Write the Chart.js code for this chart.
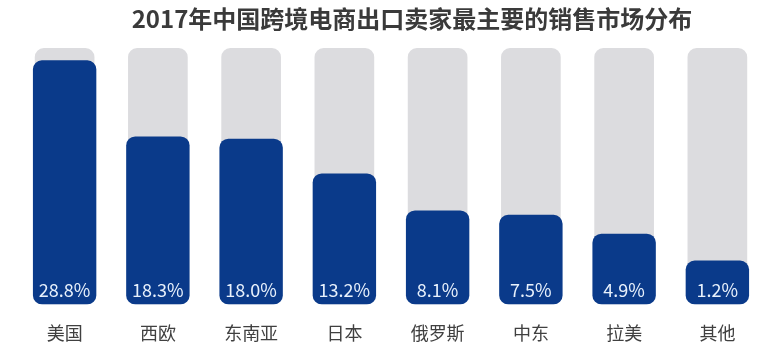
<!DOCTYPE html>
<html>
<head>
<meta charset="utf-8">
<title>销售市场分布</title>
<script src="https://cdn.jsdelivr.net/npm/chart.js@4.4.0/dist/chart.umd.min.js"></script>
<style>
    html, body { margin: 0; padding: 0; background: #ffffff; }
    #wrap { width: 783px; height: 362px; }
</style>
</head>
<body>
<div id="wrap"><canvas id="marketChart" width="783" height="362"></canvas></div>
<script>
// data
var chartTitle = '2017年中国跨境电商出口卖家最主要的销售市场分布';
var markets = ["美国", "西欧", "东南亚", "日本", "俄罗斯", "中东", "拉美", "其他"];
var shares = [28.8, 18.3, 18.0, 13.2, 8.1, 7.5, 4.9, 1.2];
var valueLabels = ["28.8%", "18.3%", "18.0%", "13.2%", "8.1%", "7.5%", "4.9%", "1.2%"];

// the bars in the picture do not start at 0, so the axis runs a bit below it
var axisMin = -4.85;
var axisMax = 30.5;

var trackData = markets.map(function () { return axisMax; });

// title sits a little right of centre in the original, so draw it by hand
var titleText = {
    id: 'titleText',
    afterDraw: function (chart) {
        var ctx = chart.ctx;
        ctx.save();
        ctx.font = 'bold 24px "Noto Sans CJK SC", sans-serif';
        ctx.fillStyle = '#3a3a3a';
        ctx.textAlign = 'center';
        ctx.textBaseline = 'middle';
        ctx.fillText(chartTitle, 412, 19);
        ctx.restore();
    }
};

// draws the % label at the foot of each blue bar
var footLabels = {
    id: 'footLabels',
    afterDatasetsDraw: function (chart) {
        var ctx = chart.ctx;
        var meta = chart.getDatasetMeta(0);
        ctx.save();
        ctx.font = '18px "Noto Sans CJK SC", "Open Sans", sans-serif';
        ctx.fillStyle = '#e8f1fc';
        ctx.textAlign = 'center';
        ctx.textBaseline = 'middle';
        meta.data.forEach(function (bar, i) {
            ctx.fillText(valueLabels[i], bar.x, chart.chartArea.bottom - 14);
        });
        ctx.restore();
    }
};

var ctx = document.getElementById('marketChart');
var chart = new Chart(ctx, {
    type: 'bar',
    data: {
        labels: markets,
        datasets: [{
            data: shares,
            base: axisMin,
            backgroundColor: '#0a3a8a',
            borderRadius: 9,
            borderSkipped: false,
            barPercentage: 0.68,
            categoryPercentage: 1,
            grouped: false,
            order: 0
        }, {
            data: trackData,
            base: axisMin,
            backgroundColor: '#dcdcdf',
            borderRadius: 9,
            borderSkipped: false,
            barPercentage: 0.64,
            categoryPercentage: 1,
            grouped: false,
            order: 1
        }]
    },
    options: {
        responsive: false,
        animation: false,
        layout: {
            padding: { left: 18, right: 19, top: 48, bottom: 0 }
        },
        plugins: {
            legend: { display: false },
            tooltip: { enabled: false },
            title: { display: false }
        },
        scales: {
            x: {
                grid: { display: false, drawTicks: false },
                border: { display: false },
                ticks: {
                    color: '#404040',
                    padding: 18,
                    font: { family: '"Noto Sans CJK SC", sans-serif', size: 18 }
                }
            },
            y: {
                display: false,
                min: axisMin,
                max: axisMax
            }
        }
    },
    plugins: [footLabels, titleText]
});
</script>
</body>
</html>
